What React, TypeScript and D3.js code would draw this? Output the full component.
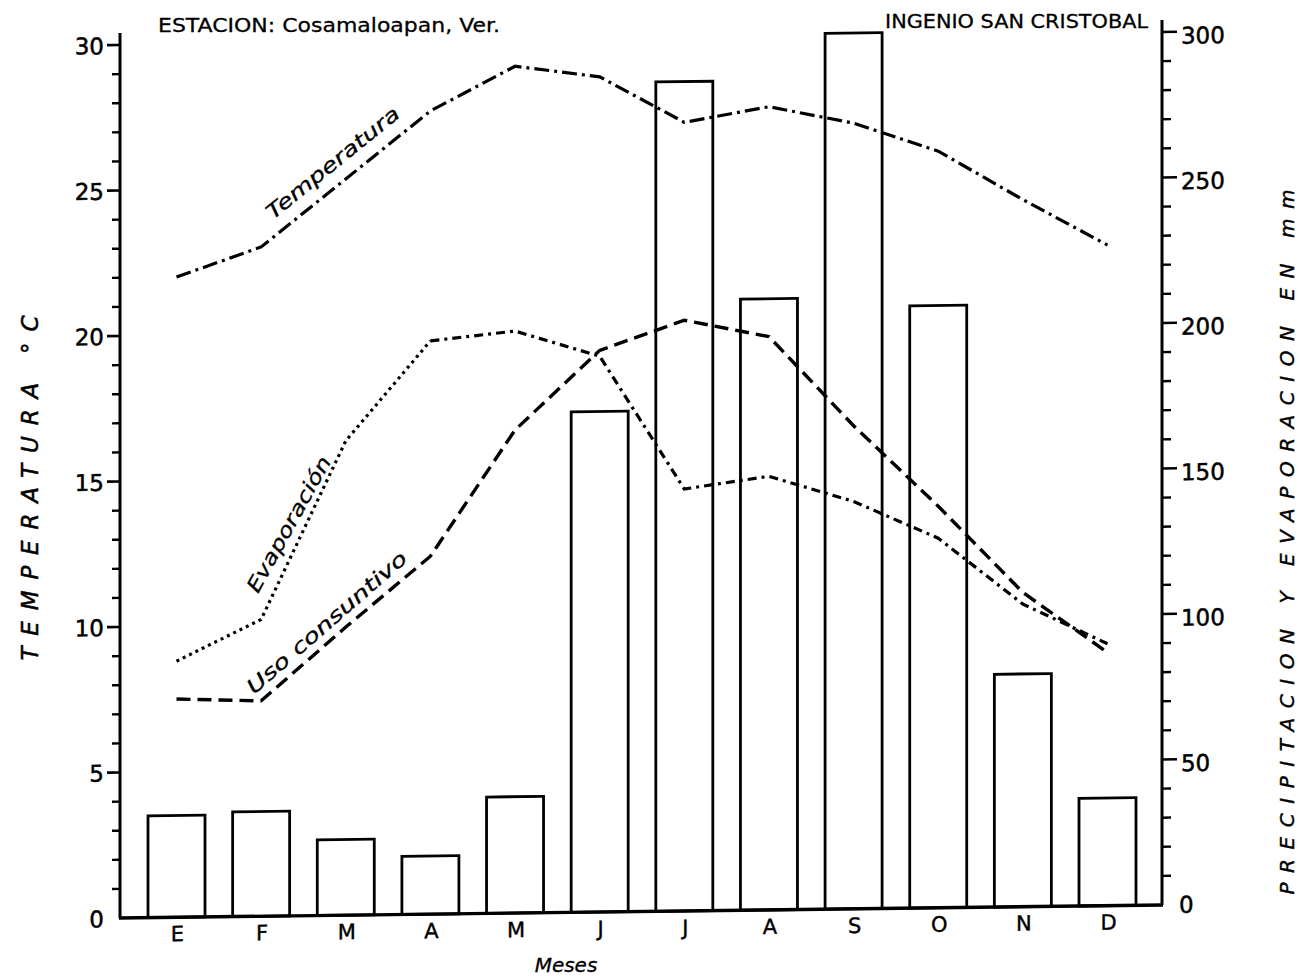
import React from 'react';
import * as d3 from 'd3';

const months = ['E', 'F', 'M', 'A', 'M', 'J', 'J', 'A', 'S', 'O', 'N', 'D'];
// Precipitación (mm) - barras
const precipitacion = [35, 36, 26, 20, 40, 172, 285, 210, 301, 207, 80, 37];
// Temperatura (°C)
const temperatura = [22.0, 23.0, 25.3, 27.6, 29.1, 28.7, 27.1, 27.6, 27.0, 26.0, 24.3, 22.7];
// Evaporación (mm)
const evaporacion = [88, 102, 163, 197, 200, 191, 145, 149, 140, 127, 104, 90];
// Uso consuntivo (mm)
const usoConsuntivo = [75, 74, 99, 123, 166, 193, 203, 197, 166, 138, 108, 87];

const leftTicks = [0, 5, 10, 15, 20, 25, 30];
const rightTicks = [0, 50, 100, 150, 200, 250, 300];

const FONT = "'DejaVu Sans', 'Liberation Sans', sans-serif";

export default function App() {
  const W = 1300;
  const H = 976;
  const xL = 120;
  const xR = 1162;
  const idx = d3.range(months.length);
  const x = d3.scalePoint<number>().domain(idx).range([176.5, 1107.5]);
  const yT = d3.scaleLinear().domain([0, 30]).range([918, 45]);
  const yM = d3.scaleLinear().domain([0, 300]).range([918, 45]);
  const barW = 57;

  const lineT = d3.line<number>().x((_, i) => x(i)!).y((d) => yT(d));
  const lineM = d3
    .line<[number, number]>()
    .x((d) => x(d[0])!)
    .y((d) => yM(d[1]));

  const evapPts: [number, number][] = evaporacion.map((v, i) => [i, v]);
  const usoPts: [number, number][] = usoConsuntivo.map((v, i) => [i, v]);

  const leftMinor = d3.range(1, 31).filter((v) => v % 5 !== 0);
  const rightMinor = d3.range(10, 301, 10).filter((v) => v % 50 !== 0);

  const sw = 2.8;

  return (
    <svg
      width={W}
      height={H}
      viewBox={`0 0 ${W} ${H}`}
      style={{ position: 'absolute', left: 0, top: 0, background: '#fff' }}
      fontFamily={FONT}
    >
      <rect x={0} y={0} width={W} height={H} fill="#fff" />
      {/* slight skew of the scanned original */}
      <g transform="translate(0,1.5) skewY(-0.716)">
        {/* bars */}
        {precipitacion.map((v, i) => (
          <rect
            key={'b' + i}
            x={x(i)! - barW / 2}
            y={yM(v)}
            width={barW}
            height={yM(0) - yM(v)}
            fill="#fff"
            stroke="#000"
            strokeWidth={sw}
          />
        ))}

        {/* axes */}
        <line x1={xL} x2={xL} y1={yT(30) - 12} y2={yT(0)} stroke="#000" strokeWidth={3} />
        <line x1={xR} x2={xR} y1={yM(300) - 12} y2={yM(0)} stroke="#000" strokeWidth={3} />
        <line x1={xL - 1} x2={xR + 1} y1={yT(0)} y2={yT(0)} stroke="#000" strokeWidth={3.4} />

        {/* left ticks */}
        {leftMinor.map((v) => (
          <line key={'lm' + v} x1={xL - 8} x2={xL} y1={yT(v)} y2={yT(v)} stroke="#000" strokeWidth={2.4} />
        ))}
        {leftTicks.filter((v) => v > 0).map((v) => (
          <line key={'lM' + v} x1={xL - 13} x2={xL} y1={yT(v)} y2={yT(v)} stroke="#000" strokeWidth={2.6} />
        ))}
        {leftTicks.map((v) => (
          <text
            key={'lt' + v}
            x={104}
            y={yT(v) + 1}
            fontSize={23}
            textAnchor="end"
            dominantBaseline="central"
            fill="#000"
            stroke="#000"
            strokeWidth={0.5}
          >
            {v}
          </text>
        ))}

        {/* right ticks */}
        {rightMinor.map((v) => (
          <line key={'rm' + v} x1={xR} x2={xR + 9} y1={yM(v)} y2={yM(v)} stroke="#000" strokeWidth={2.4} />
        ))}
        {rightTicks.filter((v) => v > 0).map((v) => (
          <line key={'rM' + v} x1={xR} x2={xR + 15} y1={yM(v)} y2={yM(v)} stroke="#000" strokeWidth={2.6} />
        ))}
        {rightTicks.map((v) => (
          <text
            key={'rt' + v}
            x={v === 0 ? 1179 : 1181}
            y={yM(v) + (v === 0 ? 0 : 4)}
            fontSize={23}
            textAnchor="start"
            dominantBaseline="central"
            fill="#000"
            stroke="#000"
            strokeWidth={0.5}
          >
            {v}
          </text>
        ))}

        {/* month labels */}
        {months.map((m, i) => (
          <text
            key={'m' + i}
            x={x(i)! + 1}
            y={942}
            fontSize={21}
            textAnchor="middle"
            fill="#000"
            stroke="#000"
            strokeWidth={0.4}
          >
            {m}
          </text>
        ))}

        {/* lines */}
        <path
          d={lineT(temperatura) || ''}
          fill="none"
          stroke="#000"
          strokeWidth={3.2}
          strokeDasharray="15,5,3,5"
        />
        <path
          d={lineM(usoPts) || ''}
          fill="none"
          stroke="#000"
          strokeWidth={3.4}
          strokeDasharray="14,7"
        />
        <path
          d={lineM(evapPts.slice(0, 4)) || ''}
          fill="none"
          stroke="#000"
          strokeWidth={3.2}
          strokeDasharray="3,4"
        />
        <path
          d={lineM(evapPts.slice(3)) || ''}
          fill="none"
          stroke="#000"
          strokeWidth={3.2}
          strokeDasharray="9,5,3,5"
        />
      </g>

      {/* titles */}
      <text x={158} y={32} fontSize={20} textLength={342} lengthAdjust="spacingAndGlyphs" fill="#000" stroke="#000" strokeWidth={0.3}>
        ESTACION: Cosamaloapan, Ver.
      </text>
      <text x={885} y={28} fontSize={19} textLength={263} lengthAdjust="spacingAndGlyphs" fill="#000" stroke="#000" strokeWidth={0.3}>
        INGENIO SAN CRISTOBAL
      </text>

      {/* axis titles */}
      <text
        transform="translate(38,488) rotate(-90)"
        fontSize={23}
        fontStyle="italic"
        textAnchor="middle"
        textLength={345}
        lengthAdjust="spacing"
        fill="#000"
        stroke="#000"
        strokeWidth={0.5}
      >
        TEMPERATURA °C
      </text>
      <text
        transform="translate(1294,542) rotate(-90)"
        fontSize={20}
        fontStyle="italic"
        textAnchor="middle"
        textLength={705}
        lengthAdjust="spacing"
        fill="#000"
        stroke="#000"
        strokeWidth={0.4}
      >
        PRECIPITACION Y EVAPORACION EN mm
      </text>
      <text x={566} y={972} fontSize={20} fontStyle="italic" textAnchor="middle" fill="#000" stroke="#000" strokeWidth={0.3}>
        Meses
      </text>

      {/* line labels */}
      <text
        transform="translate(273,220) rotate(-39)"
        fontSize={20}
        fontStyle="italic"
        textLength={165}
        lengthAdjust="spacingAndGlyphs"
        fill="#000"
        stroke="#000"
        strokeWidth={0.3}
      >
        Temperatura
      </text>
      <text
        transform="translate(258,594) rotate(-61)"
        fontSize={20}
        fontStyle="italic"
        textLength={152}
        lengthAdjust="spacingAndGlyphs"
        fill="#000"
        stroke="#000"
        strokeWidth={0.3}
      >
        Evaporación
      </text>
      <text
        transform="translate(254,695) rotate(-41)"
        fontSize={20}
        fontStyle="italic"
        textLength={205}
        lengthAdjust="spacingAndGlyphs"
        fill="#000"
        stroke="#000"
        strokeWidth={0.3}
      >
        Uso consuntivo
      </text>
    </svg>
  );
}
